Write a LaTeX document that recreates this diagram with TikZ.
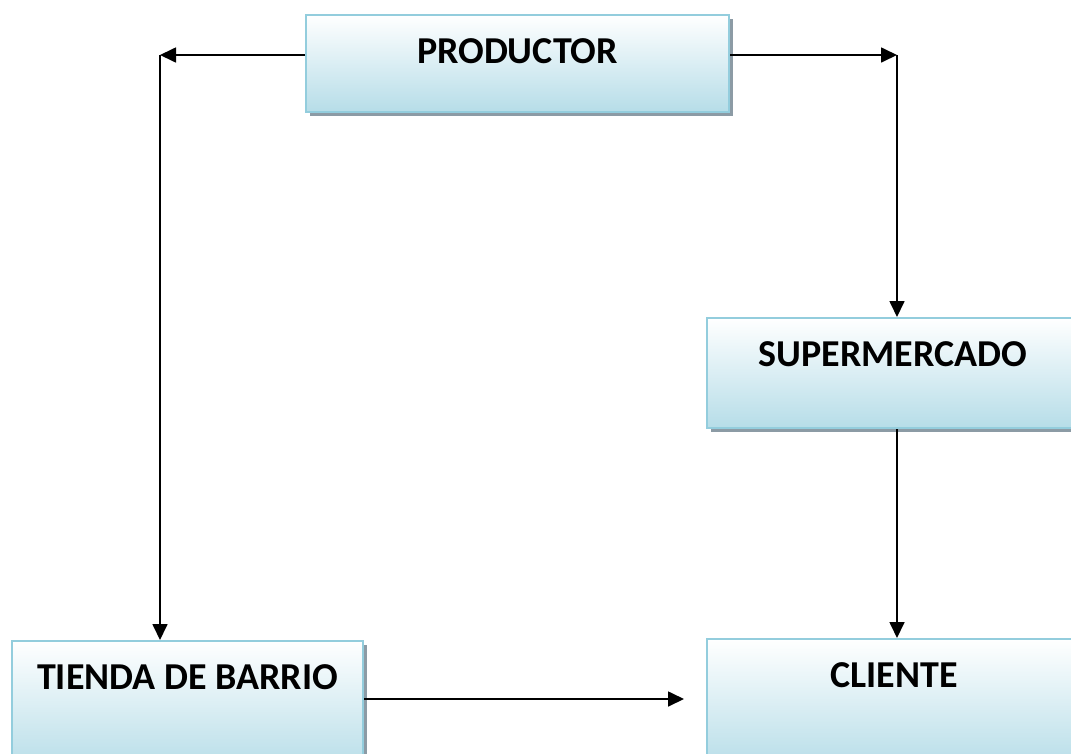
\documentclass[tikz,border=0pt]{standalone}
\usepackage{fontspec}
\setmainfont{Carlito}
\usetikzlibrary{arrows.meta,shadows}
\definecolor{boxedge}{RGB}{147,205,221}
\definecolor{boxbottom}{RGB}{182,221,232}
\definecolor{shadowc}{RGB}{140,155,165}
\tikzset{
  boxstyle/.style={draw=boxedge, line width=2pt, top color=white, bottom color=boxbottom,
    minimum width=#1, minimum height=110pt, inner sep=0pt,
    drop shadow={shadow xshift=3.5pt, shadow yshift=-3.5pt, opacity=1, fill=shadowc}},
  boxtext/.style={font=\fontsize{38}{45}\selectfont\bfseries, anchor=center, yshift=-37pt},
  conn/.style={line width=1.7pt, -{Triangle[length=16pt,width=15pt]}}
}
\begin{document}
\begin{tikzpicture}[x=1pt,y=-1pt]
\useasboundingbox (0,0) rectangle (1071,753);
\clip (0,0) rectangle (1071,753);
\node[boxstyle=423pt, minimum height=97pt, label={[boxtext]north:PRODUCTOR}] (prod) at (517.5,63.5) {};
\node[boxstyle=372pt, label={[boxtext]north:SUPERMERCADO}] (super) at (893,373) {};
\node[boxstyle=351pt, minimum height=130pt, label={[boxtext]north:TIENDA DE BARRIO}] (tienda) at (187.5,706) {};
\node[boxstyle=374pt, minimum height=130pt, label={[boxtext]north:CLIENTE}] (cliente) at (894,704) {};
\coordinate (pl) at (160,55);
\coordinate (pr) at (897,55);
\coordinate (ct) at (684,699);
\draw[conn] (prod.west |- pl) -- (pl);
\draw[conn] (prod.east |- pr) -- (pr);
\draw[conn] (pl) -- (pl |- tienda.north);
\draw[conn] (pr) -- (pr |- super.north);
\draw[conn] (pr |- super.south) -- (pr |- cliente.north);
\draw[conn] (tienda.east |- ct) -- (ct);
\end{tikzpicture}
\end{document}
